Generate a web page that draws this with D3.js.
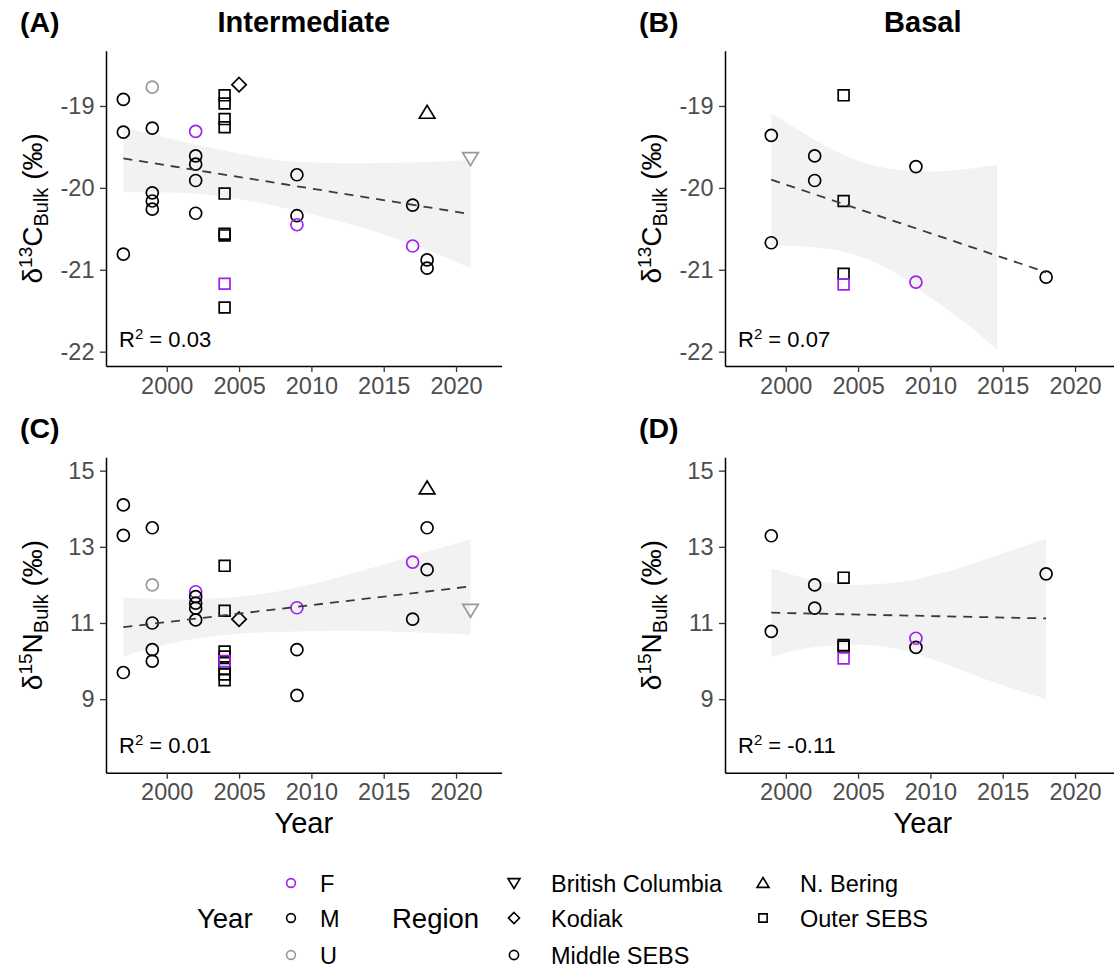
<!DOCTYPE html>
<html>
<head>
<meta charset="utf-8">
<script src="https://cdn.jsdelivr.net/npm/d3@7"></script>
<style>
  body { margin: 0; background: #fff; }
  text { font-family: "Liberation Sans", Arial, Helvetica, sans-serif; }
</style>
</head>
<body>
<svg width="1114" height="970"></svg>
<script>
// ---- intermediate tissue samples ----
const intYear   = [1997, 1997, 1997, 1999, 1999, 1999, 1999, 1999, 2002, 2002, 2002, 2002, 2002,
                   2004, 2004, 2004, 2004, 2004, 2004, 2004, 2004, 2004, 2005, 2009, 2009, 2009,
                   2017, 2017, 2018, 2018, 2018, 2021];
const intSex    = ["M", "M", "M", "U", "M", "M", "M", "M", "F", "M", "M", "M", "M",
                   "M", "M", "M", "M", "M", "M", "M", "M", "F", "M", "M", "M", "F",
                   "M", "F", "M", "M", "M", "U"];
const intRegion = ["Middle SEBS", "Middle SEBS", "Middle SEBS", "Middle SEBS", "Middle SEBS", "Middle SEBS",
                   "Middle SEBS", "Middle SEBS", "Middle SEBS", "Middle SEBS", "Middle SEBS", "Middle SEBS",
                   "Middle SEBS", "Outer SEBS", "Outer SEBS", "Outer SEBS", "Outer SEBS", "Outer SEBS",
                   "Outer SEBS", "Outer SEBS", "Outer SEBS", "Outer SEBS", "Kodiak", "Middle SEBS",
                   "Middle SEBS", "Middle SEBS", "Middle SEBS", "Middle SEBS", "N. Bering", "Middle SEBS",
                   "Middle SEBS", "British Columbia"];
const intC13    = [-18.92, -19.32, -20.81, -18.77, -19.27, -20.06, -20.16, -20.26, -19.31, -19.61, -19.71,
                   -19.91, -20.31, -18.87, -18.97, -19.16, -19.26, -20.07, -20.56, -20.58, -21.46, -21.17,
                   -18.74, -19.84, -20.34, -20.45, -20.21, -20.71, -19.08, -20.88, -20.98, -19.64];
const intN15    = [14.1, 13.3, 9.7, 12.0, 13.5, 11.0, 10.3, 10.0, 11.82, 11.69, 11.52, 11.39, 11.08,
                   12.5, 11.32, 10.25, 10.12, 9.95, 9.8, 9.65, 9.5, 10.0, 11.1, 10.3, 9.1, 11.4,
                   11.1, 12.6, 14.54, 13.5, 12.4, 11.34];

// ---- basal tissue samples ----
const basYear   = [1999, 1999, 2002, 2002, 2004, 2004, 2004, 2004, 2009, 2009, 2018];
const basSex    = ["M", "M", "M", "M", "M", "M", "M", "F", "M", "F", "M"];
const basRegion = ["Middle SEBS", "Middle SEBS", "Middle SEBS", "Middle SEBS", "Outer SEBS", "Outer SEBS",
                   "Outer SEBS", "Outer SEBS", "Middle SEBS", "Middle SEBS", "Middle SEBS"];
const basC13    = [-19.36, -20.67, -19.61, -19.91, -18.87, -20.16, -21.05, -21.18, -19.74, -21.15, -21.09];
const basN15    = [13.29, 10.78, 12.0, 11.39, 12.19, 10.42, 10.38, 10.07, 10.36, 10.6, 12.29];

// ---- fitted lines and confidence bands ----
const fitYearsInt = [1997, 2021];
const fitC13Int   = [-19.64, -20.32];
const fitN15Int   = [10.89, 11.96];
const fitYearsBas = [1999, 2018];
const fitC13Bas   = [-19.90, -21.03];
const fitN15Bas   = [11.27, 11.12];

const bandYearsA = [1997, 2001, 2005, 2009, 2013, 2017, 2021];
const bandHiA    = [-19.26, -19.43, -19.58, -19.68, -19.70, -19.69, -19.66];
const bandLoA    = [-20.05, -20.06, -20.14, -20.28, -20.46, -20.69, -20.98];
const bandYearsB = [1999, 2001.5, 2004, 2007, 2010, 2012.5, 2014.6];
const bandHiB    = [-19.09, -19.36, -19.60, -19.76, -19.80, -19.77, -19.71];
const bandLoB    = [-20.70, -20.72, -20.78, -20.98, -21.34, -21.66, -21.98];
const bandYearsC = [1997, 2001, 2005, 2009, 2013, 2017, 2021];
const bandHiC    = [11.67, 11.62, 11.69, 11.93, 12.32, 12.76, 13.2];
const bandLoC    = [10.13, 10.52, 10.72, 10.78, 10.79, 10.76, 10.70];
const bandYearsD = [1999, 2002, 2005, 2008, 2011, 2014, 2018];
const bandHiD    = [12.44, 12.12, 12.00, 12.08, 12.33, 12.70, 13.22];
const bandLoD    = [10.10, 10.37, 10.43, 10.30, 9.93, 9.50, 9.00];

const r2Labels  = ["0.03", "0.07", "0.01", "-0.11"];
const xTicks    = [2000, 2005, 2010, 2015, 2020];
const c13Ticks  = [-22, -21, -20, -19];
const n15Ticks  = [9, 11, 13, 15];

const sexKeys    = ["F", "M", "U"];
const sexColors  = ["#a020f0", "#000000", "#999999"];
const regionKeys = ["British Columbia", "Kodiak", "Middle SEBS", "N. Bering", "Outer SEBS"];

// ---- shapes ----
const circle  = { draw(c, r) { c.moveTo(r, 0); c.arc(0, 0, r, 0, 2 * Math.PI); } };
const square  = { draw(c, r) { const s = r * 0.9; c.rect(-s, -s, 2 * s, 2 * s); } };
const triUp   = { draw(c, r) { c.moveTo(0, -1.2 * r); c.lineTo(1.3 * r, 0.95 * r); c.lineTo(-1.3 * r, 0.95 * r); c.closePath(); } };
const triDown = { draw(c, r) { c.moveTo(0, 1.2 * r); c.lineTo(1.3 * r, -0.95 * r); c.lineTo(-1.3 * r, -0.95 * r); c.closePath(); } };
const diamond = { draw(c, r) { const d = 1.2 * r; c.moveTo(0, -d); c.lineTo(d, 0); c.lineTo(0, d); c.lineTo(-d, 0); c.closePath(); } };

const shape = d3.scaleOrdinal().domain(regionKeys).range([triDown, diamond, circle, triUp, square]);
const color = d3.scaleOrdinal().domain(sexKeys).range(sexColors);

const svg = d3.select("svg");

// ---- scales ----
const xDomain = [1995.8, 2023.15];
const xLeft  = d3.scaleLinear().domain(xDomain).range([106, 501.6]);
const xRight = d3.scaleLinear().domain(xDomain).range([725, 1120.6]);
const yC13 = d3.scaleLinear().domain([-22.175, -18.325]).range([366, 50.7]);
const yN15 = d3.scaleLinear().domain([7.07, 15.35]).range([772.7, 457.3]);

const panels = [
  { tag: "(A)", title: "Intermediate", x: xLeft, y: yC13, ticks: c13Ticks, el: "C", iso: "13",
    years: intYear, vals: intC13, sex: intSex, region: intRegion,
    fitX: fitYearsInt, fitY: fitC13Int, bx: bandYearsA, bhi: bandHiA, blo: bandLoA, r2: r2Labels[0] },
  { tag: "(B)", title: "Basal", x: xRight, y: yC13, ticks: c13Ticks, el: "C", iso: "13",
    years: basYear, vals: basC13, sex: basSex, region: basRegion,
    fitX: fitYearsBas, fitY: fitC13Bas, bx: bandYearsB, bhi: bandHiB, blo: bandLoB, r2: r2Labels[1] },
  { tag: "(C)", title: null, x: xLeft, y: yN15, ticks: n15Ticks, el: "N", iso: "15", xlab: true,
    years: intYear, vals: intN15, sex: intSex, region: intRegion,
    fitX: fitYearsInt, fitY: fitN15Int, bx: bandYearsC, bhi: bandHiC, blo: bandLoC, r2: r2Labels[2] },
  { tag: "(D)", title: null, x: xRight, y: yN15, ticks: n15Ticks, el: "N", iso: "15", xlab: true,
    years: basYear, vals: basN15, sex: basSex, region: basRegion,
    fitX: fitYearsBas, fitY: fitN15Bas, bx: bandYearsD, bhi: bandHiD, blo: bandLoD, r2: r2Labels[3] }
];

panels.forEach(p => {
  const g = svg.append("g");
  const [x0] = p.x.range();
  const [yb, yt] = p.y.range();
  const xc = (p.x.range()[0] + p.x.range()[1]) / 2;

  // confidence band
  const band = p.bx.map((b, i) => ({ x: b, hi: p.bhi[i], lo: p.blo[i] }));
  g.append("path")
    .datum(band)
    .attr("fill", "#f2f2f2")
    .attr("d", d3.area().curve(d3.curveMonotoneX)
      .x(d => p.x(d.x)).y0(d => p.y(d.lo)).y1(d => p.y(d.hi)));

  // points
  const pts = p.years.map((yr, i) => ({ yr, v: p.vals[i], sex: p.sex[i], region: p.region[i] }));
  g.selectAll(".pt")
    .data(pts)
    .enter().append("path")
    .attr("class", "pt")
    .attr("transform", d => "translate(" + p.x(d.yr) + "," + p.y(d.v) + ")")
    .attr("d", d => d3.symbol().type(shape(d.region)).size(6)())
    .attr("fill", "none")
    .attr("stroke", d => color(d.sex))
    .attr("stroke-width", 1.7);

  // fitted line
  g.append("path")
    .datum(p.fitX.map((f, i) => [f, p.fitY[i]]))
    .attr("fill", "none")
    .attr("stroke", "#3a3a3a")
    .attr("stroke-width", 1.8)
    .attr("stroke-dasharray", "9,7")
    .attr("d", d3.line().x(d => p.x(d[0])).y(d => p.y(d[1])));

  // axes
  const ax = g.append("g")
    .attr("transform", "translate(0," + yb + ")")
    .call(d3.axisBottom(p.x).tickValues(xTicks).tickFormat(d3.format("d")).tickSize(6).tickSizeOuter(0).tickPadding(5));
  const ay = g.append("g")
    .attr("transform", "translate(" + x0 + ",0)")
    .call(d3.axisLeft(p.y).tickValues(p.ticks).tickFormat(d => String(d).replace("\u2212", "-")).tickSize(6).tickSizeOuter(0).tickPadding(5.5));
  [ax, ay].forEach(a => {
    a.select(".domain").attr("stroke", "#000").attr("stroke-width", 1.5);
    a.selectAll(".tick line").attr("stroke", "#333").attr("stroke-width", 1.3);
    a.selectAll(".tick text").attr("fill", "#4d4d4d").style("font-size", "23.5px");
  });

  // y axis title
  const yc = (yb + yt) / 2;
  const yt1 = g.append("text")
    .attr("transform", "translate(" + (x0 - 64) + "," + yc + ") rotate(-90)")
    .attr("text-anchor", "middle")
    .style("font-size", "28px")
    .attr("fill", "#000");
  yt1.append("tspan").text("\u03b4");
  yt1.append("tspan").attr("dy", -10).style("font-size", "19px").text(p.iso);
  yt1.append("tspan").attr("dy", 10).text(p.el);
  yt1.append("tspan").attr("dy", 6).style("font-size", "20px").text("Bulk");
  yt1.append("tspan").attr("dy", -6).text(" (\u2030)");

  // R squared
  const rt = g.append("text")
    .attr("x", x0 + 13)
    .attr("y", yb - 19.5)
    .style("font-size", "22px")
    .attr("fill", "#000");
  rt.append("tspan").text("R");
  rt.append("tspan").attr("dy", -8).style("font-size", "15px").text("2");
  rt.append("tspan").attr("dy", 8).text(" = " + p.r2);

  // tag and title
  g.append("text")
    .attr("x", x0 - 86)
    .attr("y", yt - 19)
    .style("font-size", "28.5px")
    .style("font-weight", "bold")
    .text(p.tag);
  if (p.title) {
    g.append("text")
      .attr("x", xc)
      .attr("y", yt - 19)
      .attr("text-anchor", "middle")
      .style("font-size", "29px")
      .style("font-weight", "bold")
      .text(p.title);
  }
  if (p.xlab) {
    g.append("text")
      .attr("x", xc)
      .attr("y", 833)
      .attr("text-anchor", "middle")
      .style("font-size", "29px")
      .text("Year");
  }
});

// ---- legend ----
const rowY = [883, 918, 955];
const leg = svg.append("g");

leg.append("text").attr("x", 197).attr("y", 928).style("font-size", "27.5px").text("Year");
leg.selectAll(".sexkey")
  .data(sexKeys)
  .enter().append("path")
  .attr("transform", (d, i) => "translate(291," + rowY[i] + ")")
  .attr("d", d3.symbol().type(circle).size(4.4)())
  .attr("fill", "none")
  .attr("stroke", d => color(d))
  .attr("stroke-width", 1.6);
leg.selectAll(".sexlab")
  .data(sexKeys)
  .enter().append("text")
  .attr("x", 320)
  .attr("y", (d, i) => rowY[i] + 8.5)
  .style("font-size", "23.5px")
  .text(d => d);

leg.append("text").attr("x", 392).attr("y", 928).style("font-size", "27.5px").text("Region");
const regCol = i => (i < 3 ? 514 : 763);
const regRow = i => rowY[i % 3];
leg.selectAll(".regkey")
  .data(regionKeys)
  .enter().append("path")
  .attr("transform", (d, i) => "translate(" + regCol(i) + "," + regRow(i) + ")")
  .attr("d", d => d3.symbol().type(shape(d)).size(4.6)())
  .attr("fill", "none")
  .attr("stroke", "#000")
  .attr("stroke-width", 1.6);
leg.selectAll(".reglab")
  .data(regionKeys)
  .enter().append("text")
  .attr("x", (d, i) => regCol(i) + 37)
  .attr("y", (d, i) => regRow(i) + 8.5)
  .style("font-size", "23.5px")
  .text(d => d);
</script>
</body>
</html>
